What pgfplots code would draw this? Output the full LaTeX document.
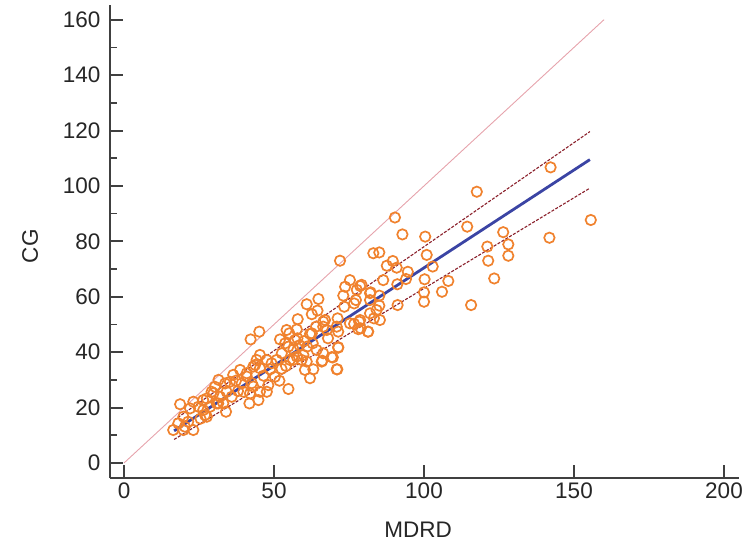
\documentclass[border=0pt]{standalone}
\usepackage{pgfplots}
\pgfplotsset{compat=1.18}
\usepackage{fontspec}
\setmainfont{Liberation Sans}
\definecolor{ptorange}{HTML}{F0822E}
\definecolor{regblue}{HTML}{3B44A4}
\definecolor{cidark}{HTML}{8A1F2A}
\definecolor{idpink}{HTML}{E6A3AC}
\definecolor{axgray}{HTML}{404040}
\begin{document}
\begin{tikzpicture}
\useasboundingbox (0pt,0pt) rectangle (745pt,555pt);
\begin{axis}[
  at={(110pt,77pt)}, anchor=south west,
  scale only axis, width=629pt, height=473pt,
  xmin=-4.67, xmax=205, ymin=-5.42, ymax=165.3,
  axis lines*=left,
  axis line style={axgray, line width=2.4pt, -},
  tick align=inside,
  major tick length=13pt, minor tick length=7pt,
  major tick style={axgray, line width=2pt},
  minor tick style={axgray, line width=1.6pt},
  xtick={0,50,...,200}, ytick={0,20,...,160},
  minor ytick={10,30,...,150},
  font=\fontsize{22.5}{25}\selectfont,
  /pgf/number format/assume math mode=true,
  ticklabel style={font=\fontsize{22.5}{25}\selectfont, text=black!85},
  yticklabel style={xshift=-6pt},
  xticklabel style={yshift=-1pt},
  xlabel={MDRD}, ylabel={CG},
  xlabel style={at={(axis description cs:0.49,-0.11)}, anchor=center, text=black!85},
  ylabel style={at={(axis description cs:-0.127,0.49)}, anchor=center, rotate=0, text=black!85},
  clip=false,
]
\addplot[idpink, line width=0.9pt] coordinates {(0,0) (160,160)};
\addplot[only marks, mark=o, mark size=5.2pt, mark options={ptorange, line width=1.7pt}] table {
x y
142.2 106.7
117.6 97.9
90.3 88.6
155.6 87.7
114.4 85.3
92.8 82.5
100.4 81.7
141.8 81.3
126.4 83.3
121.1 78.1
128.1 78.9
128.1 74.8
121.4 73.0
100.9 75.1
123.4 66.6
115.7 57.0
108.1 65.7
106.0 61.8
102.9 70.9
100.2 66.3
100.0 61.6
100.0 58.2
91.2 57.0
91.1 64.5
94.0 66.4
94.6 69.0
90.9 70.5
89.6 72.9
87.6 71.2
83.1 75.7
85.1 76.0
72.0 73.0
86.4 66.0
75.3 66.0
73.7 63.6
78.7 63.9
73.1 60.4
82.2 61.6
85.1 60.4
77.3 58.8
73.4 56.4
76.7 57.6
82.0 58.8
85.1 56.8
84.2 55.2
82.0 54.0
83.3 52.2
85.3 51.6
76.7 50.2
78.4 51.0
78.9 48.6
81.3 47.4
71.2 52.2
71.4 47.4
71.4 41.6
69.6 38.1
71.1 33.8
64.8 59.2
60.9 57.3
62.6 53.7
57.9 51.9
67.0 51.6
66.4 49.2
64.0 49.2
62.0 46.6
57.6 48.2
55.1 46.8
52.0 44.6
53.7 43.2
57.8 45.0
42.2 44.6
45.1 47.4
62.9 43.2
64.2 40.8
66.4 39.6
66.1 36.9
60.9 36.6
63.1 33.8
62.0 30.6
59.2 37.2
57.6 38.4
55.3 37.2
52.6 39.6
50.9 37.2
49.2 36.0
47.6 37.2
45.3 39.0
44.2 37.2
43.1 34.8
45.3 34.2
48.7 33.8
50.3 31.1
51.8 29.7
54.8 26.7
48.1 28.1
47.6 25.7
45.3 25.7
44.8 22.7
41.8 21.5
42.0 25.1
43.1 27.6
39.2 28.7
40.9 31.2
37.3 29.7
35.3 29.3
33.7 28.7
34.2 25.7
33.1 21.5
34.0 18.5
32.0 23.9
30.3 27.5
29.2 25.7
30.9 21.5
27.6 23.3
28.7 20.3
27.6 16.7
26.4 19.1
24.8 20.3
23.1 22.1
22.0 19.7
18.7 21.2
19.8 16.7
21.4 14.9
23.1 11.9
19.8 11.9
16.4 11.9
18.1 14.3
38.7 33.6
36.4 31.8
70.9 49.2
56.5 41.0
54.0 35.0
58.5 42.5
60.0 44.0
68.0 45.0
46.5 31.5
38.0 26.0
31.5 30.0
25.5 16.0
52.5 34.0
64.5 55.0
61.0 42.0
79.2 64.3
77.6 62.5
82.0 61.3
78.7 51.6
75.3 50.4
78.1 48.3
81.4 47.4
67.6 48.0
54.2 48.0
57.0 44.4
62.6 46.8
66.4 51.0
54.8 42.0
71.4 41.8
59.8 39.0
69.2 38.2
65.9 36.6
56.4 37.2
70.9 33.8
60.3 33.6
20.3 13.1
27.0 17.3
29.8 25.2
31.4 21.5
35.9 23.9
39.8 25.7
42.6 28.8
40.9 32.4
43.7 35.4
26.4 22.7
};
\addplot[cidark, line width=1.1pt, dash pattern=on 3pt off 1.5pt] coordinates {(16.7,15.5) (155.3,119.6)};
\addplot[cidark, line width=1.1pt, dash pattern=on 3pt off 1.5pt] coordinates {(16.7,8.5) (155.3,99.2)};
\addplot[regblue, line width=2.8pt] coordinates {(16.7,11.6) (155.3,109.5)};
\end{axis}
\end{tikzpicture}
\end{document}
